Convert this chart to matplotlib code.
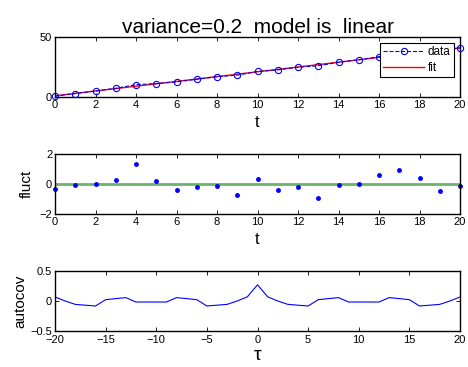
import numpy as np
import matplotlib
matplotlib.use("Agg")
import matplotlib.pyplot as plt

plt.rcParams['font.family'] = ['Liberation Sans', 'DejaVu Sans']

# time axis and series
t = list(range(21))
data = [0.7, 2.9, 5.0, 7.2, 10.3, 11.2, 12.6, 14.8, 16.9, 18.2, 21.3, 22.6, 24.8,
        26.0, 28.9, 31.0, 33.6, 35.9, 37.4, 38.5, 40.9]
fit = [1.0, 3.0, 5.0, 7.0, 9.0, 11.0, 13.0, 15.0, 17.0, 19.0, 21.0, 23.0, 25.0,
       27.0, 29.0, 31.0, 33.0, 35.0, 37.0, 39.0, 41.0]
fluct = [-0.31, -0.07, 0.0, 0.24, 1.31, 0.18, -0.42, -0.2, -0.13, -0.76, 0.31,
         -0.38, -0.2, -0.96, -0.07, 0.0, 0.62, 0.93, 0.38, -0.49, -0.13]

lags = list(range(-20, 21))
autocov_pos = [0.27, 0.07, 0.0, -0.056, -0.07, -0.083, 0.022, 0.04, 0.056, -0.017,
               -0.017, -0.017, -0.017, 0.056, 0.04, 0.022, -0.083, -0.07, -0.056,
               0.0, 0.067]
autocov = autocov_pos[:0:-1] + autocov_pos

W, H = 468, 367
fig = plt.figure(figsize=(W / 100, H / 100), dpi=100)

def box(top, bottom):
    return [55 / W, 1 - bottom / H, (460 - 55) / W, (bottom - top) / H]

def style(ax):
    ax.tick_params(direction='in', top=True, right=True, labelsize=8, length=3,
                   width=0.6, pad=2)
    for s in ax.spines.values():
        s.set_linewidth(1.0)

# top panel
ax1 = fig.add_axes(box(37, 97))
ax1.plot(t, data, '--o', color='blue', mfc='none', ms=4.5, lw=0.8, mew=0.8,
         label='data', clip_on=False, zorder=3)
ax1.plot(t, fit, '-', color='red', lw=1.0, label='fit')
ax1.set_xlim(0, 20)
ax1.set_ylim(0, 50)
ax1.set_xticks(range(0, 21, 2))
ax1.set_yticks([0, 50])
ax1.set_xlabel('t', fontsize=12, labelpad=4)
ax1.set_title('variance=0.2  model is  linear', fontsize=15, pad=3)
leg = ax1.legend(loc='upper right', fontsize=8.5, frameon=True, fancybox=False,
                 edgecolor='black', borderpad=0.25, handlelength=3.5,
                 labelspacing=0.3, borderaxespad=0.55, handletextpad=0.3,
                 framealpha=1)
leg.get_frame().set_linewidth(0.8)
style(ax1)

# middle panel
ax2 = fig.add_axes(box(154, 214))
ax2.plot([0, 20], [0, 0], color='#6ab46a', lw=2)
ax2.plot(t, fluct, '.', color='blue', ms=5, clip_on=False)
ax2.set_xlim(0, 20)
ax2.set_ylim(-2, 2)
ax2.set_xticks(range(0, 21, 2))
ax2.set_yticks([-2, 0, 2])
ax2.set_yticklabels(['\u22122', '0', '2'])
ax2.set_xlabel('t', fontsize=12, labelpad=4)
ax2.set_ylabel('fluct', fontsize=11, labelpad=4)
style(ax2)

# bottom panel
ax3 = fig.add_axes(box(271, 331))
ax3.plot(lags, autocov, '-', color='blue', lw=0.8)
ax3.set_xlim(-20, 20)
ax3.set_ylim(-0.5, 0.5)
ax3.set_xticks(range(-20, 21, 5))
ax3.set_xticklabels([str(v).replace('-', '\u2212') for v in range(-20, 21, 5)])
ax3.set_yticks([-0.5, 0, 0.5])
ax3.set_yticklabels(['\u22120.5', '0', '0.5'])
ax3.set_xlabel('\u03c4', fontsize=14, labelpad=1)
ax3.set_ylabel('autocov', fontsize=11, labelpad=2)
style(ax3)
ax3.tick_params(axis='x', pad=3)

fig.savefig('out.png', dpi=100)
